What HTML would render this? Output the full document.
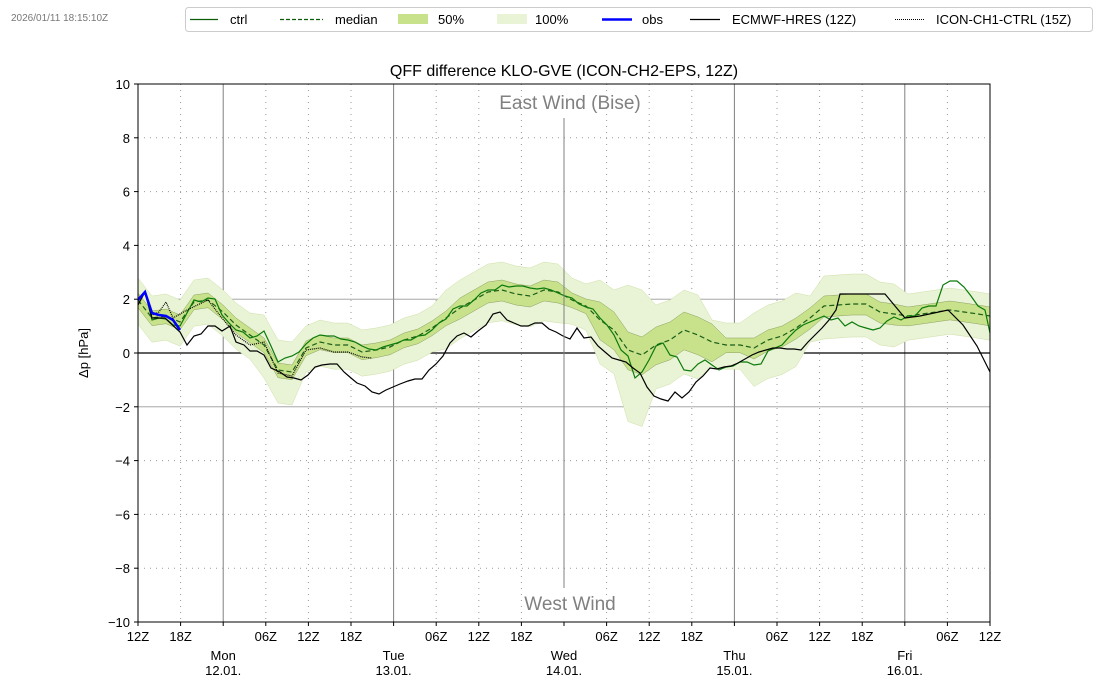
<!DOCTYPE html>
<html><head><meta charset="utf-8"><style>
body{margin:0;background:#fff;width:1100px;height:700px;overflow:hidden}
svg{display:block;font-family:"Liberation Sans","DejaVu Sans",sans-serif}
</style></head><body>
<svg id="s" width="1100" height="700" xmlns="http://www.w3.org/2000/svg">
<text x="11" y="21" font-size="10" fill="#777">2026/01/11 18:15:10Z</text>
<g id="grid"></g>
<g id="bands"></g>
<g id="lines"></g>
<rect x="138" y="84" width="852" height="538" fill="none" stroke="#000" stroke-width="1"/>
<line x1="564" y1="118" x2="564" y2="588" stroke="#808080" stroke-width="1"/>
<text x="570" y="109" font-size="19" fill="#808080" text-anchor="middle">East Wind (Bise)</text>
<text x="570" y="610" font-size="19" fill="#808080" text-anchor="middle">West Wind</text>
<text x="564" y="76" font-size="16" text-anchor="middle">QFF difference KLO-GVE (ICON-CH2-EPS, 12Z)</text>
<text transform="translate(88,353) rotate(-90)" font-size="13" text-anchor="middle">Δp [hPa]</text>
<g id="ticks" font-size="13"></g>
<g font-size="13">
<rect x="185.5" y="7.5" width="907" height="24" rx="3" fill="#fff" stroke="#ccc"/>
<line x1="190" y1="19.5" x2="218" y2="19.5" stroke="#0a5e0a" stroke-width="1.2"/><text x="230" y="24">ctrl</text>
<line x1="280" y1="19.5" x2="323" y2="19.5" stroke="#0a5e0a" stroke-width="1.2" stroke-dasharray="4,2"/><text x="335" y="24">median</text>
<rect x="398" y="14" width="30" height="10" fill="#c8e18b"/><text x="438" y="24">50%</text>
<rect x="497" y="14" width="30" height="10" fill="#e9f3d5"/><text x="535" y="24">100%</text>
<line x1="602" y1="19.5" x2="632" y2="19.5" stroke="#00f" stroke-width="2.5"/><text x="642" y="24">obs</text>
<line x1="690" y1="19.5" x2="720" y2="19.5" stroke="#000" stroke-width="1.2"/><text x="732" y="24">ECMWF-HRES (12Z)</text>
<line x1="895" y1="19.5" x2="925" y2="19.5" stroke="#000" stroke-dasharray="1,1"/><text x="936" y="24">ICON-CH1-CTRL (15Z)</text>
</g>
</svg>
<script>
const NS="http://www.w3.org/2000/svg";
function el(p,t,a,txt){const e=document.createElementNS(NS,t);for(const k in a)e.setAttribute(k,a[k]);if(txt!==undefined)e.textContent=txt;document.getElementById(p).appendChild(e);return e;}
const X=h=>138+h*852/120, Y=v=>353-26.9*v;
for(let i=0;i<=20;i++){const x=X(i*6);const mid=(i%4)==2;
 if(i>0&&i<20&&i!=10){ if(mid) el("grid","line",{x1:x,y1:84,x2:x,y2:622,stroke:"#808080","stroke-width":1});
  else el("grid","line",{x1:x,y1:84,x2:x,y2:622,stroke:"#999","stroke-dasharray":"1,5"});}
 const lbl=["12Z","18Z","","06Z"][i%4];
 el("ticks","line",{x1:x,y1:622,x2:x,y2:626,stroke:"#000"});
 if(lbl) el("ticks","text",{x:x,y:641,"text-anchor":"middle"},lbl);
}
const days=[["Mon","12.01."],["Tue","13.01."],["Wed","14.01."],["Thu","15.01."],["Fri","16.01."]];
days.forEach((d,i)=>{const x=X(12+24*i);el("ticks","text",{x:x,y:660,"text-anchor":"middle"},d[0]);el("ticks","text",{x:x,y:675,"text-anchor":"middle"},d[1]);});
for(let v=-10;v<=10;v+=2){const y=Y(v);
 if(v==0) el("grid","line",{x1:138,y1:y,x2:990,y2:y,stroke:"#000","stroke-width":1.2});
 else if(Math.abs(v)==2) el("grid","line",{x1:138,y1:y,x2:990,y2:y,stroke:"#999","stroke-width":0.8});
 else el("grid","line",{x1:138,y1:y,x2:990,y2:y,stroke:"#999","stroke-dasharray":"1,5"});
 el("ticks","line",{x1:134,y1:y,x2:138,y2:y,stroke:"#000"});
 el("ticks","text",{x:130,y:y+5,"text-anchor":"end"},v<0?"\u2212"+(-v):""+v);}
function pts(a){let s="";for(let i=0;i<a.length;i+=2)s+=a[i]+","+a[i+1]+" ";return s;}
const med=[138,300,152,318,166,316,180,322,194,302,208,300,223,312,236,325,250,335,264,345,278,370,292,372,306,348,320,342,334,345,348,345,362,352,376,350,390,347,404,340,418,336,432,328,446,318,460,308,474,300,488,292,502,290,516,294,530,296,544,290,558,292,572,300,586,306,600,320,614,330,628,350,642,355,656,345,670,340,684,330,698,335,712,342,726,345,740,345,754,348,768,340,782,336,796,328,810,318,824,306,838,305,852,304,866,304,880,312,894,314,908,316,922,314,936,312,950,310,964,312,978,314,990,316];
function band(hw,up){let s=[];for(let i=0;i<med.length;i+=2){const x=med[i];s.push(x,med[i+1]+(up?-hw(x):hw(x)*1.1));}return s;}
const w100=x=>{let w=22;if(x>250&&x<300)w=30;if(x>440&&x<560)w=28;if(x>590&&x<700)w=40+ (x>620&&x<650?25:0);if(x>740&&x<800)w=35;if(x>820&&x<900)w=30;return w;};
const w50=x=>{let w=7;if(x>450&&x<560)w=10;if(x>590&&x<720)w=18;if(x>750&&x<900)w=10;if(x>900)w=9;return w;};
function poly(id,f,fill){const u=band(f,true),l=band(f,false);let a=[];for(let i=0;i<u.length;i+=2)a.push(u[i],u[i+1]);for(let i=l.length-2;i>=0;i-=2)a.push(l[i],l[i+1]);el(id,"polygon",{points:pts(a),fill:fill,stroke:fill=="#e9f3d5"?"#cfe0a8":"#8aa060","stroke-width":0.5});}
poly("bands",w100,"#e9f3d5");poly("bands",w50,"#c8e18b");
const ec=[138,305,145,292,152,318,165,318,180,332,187,345,194,336,201,334,208,326,215,326,222,331,230,326,236,342,244,345,250,351,257,351,264,355,271,368,280,372,287,377,294,378,301,380,308,375,315,367,322,365,330,364,337,364,344,372,351,378,357,383,365,386,372,392,379,394,386,390,393,387,400,384,408,381,415,379,422,379,429,370,436,364,443,356,450,343,457,336,464,333,471,337,478,331,486,325,493,314,500,312,507,320,514,323,521,326,528,326,535,323,542,323,549,329,556,332,563,336,570,339,577,328,584,338,591,337,598,346,605,352,612,358,619,360,626,362,633,368,640,373,647,387,654,396,661,399,668,401,675,392,682,398,689,392,696,382,703,376,710,368,717,369,724,367,731,366,738,363,745,359,752,355,759,352,766,350,773,348,780,348,787,349,794,349,801,350,808,342,815,335,822,328,829,320,836,310,840,294,885,294,905,318,920,316,948,310,963,325,977,346,990,372];
const ct=[138,300,145,292,152,320,159,318,166,319,173,325,180,326,187,313,194,300,201,302,208,298,215,299,222,315,229,323,236,330,243,332,250,338,257,336,264,331,271,346,278,362,285,358,292,356,299,352,306,344,313,338,320,335,327,336,334,336,341,339,348,340,355,342,362,346,369,349,376,350,383,347,390,345,397,343,404,340,411,340,418,336,425,335,432,330,439,323,446,319,453,309,460,306,467,306,474,300,481,293,488,290,495,290,502,285,509,287,516,286,523,286,530,288,537,289,544,288,551,290,558,293,565,296,572,298,579,304,586,307,593,309,600,318,607,325,614,335,621,350,628,356,635,378,642,372,649,360,656,346,663,343,670,355,677,357,684,370,691,371,698,364,705,360,712,365,719,370,726,367,733,366,740,362,747,362,754,365,761,364,768,351,775,348,782,345,789,337,796,330,803,325,810,322,817,319,824,316,831,320,838,318,845,326,852,322,859,326,866,328,873,330,880,328,887,321,894,317,901,320,908,316,915,316,922,308,929,306,936,306,943,285,950,281,957,281,964,287,971,296,978,306,985,310,990,333];
const ic=[138,298,145,292,152,315,159,312,166,302,173,318,187,310,208,300,222,318,236,335,250,345,264,342,278,373,292,376,306,350,320,348,334,352,348,352,362,357,372,358];
const ob=[138,300,145,292,152,313,159,315,166,316,173,320,180,330];
el("lines","polyline",{points:pts(med),fill:"none",stroke:"#1a5e1a","stroke-width":1.2,"stroke-dasharray":"5,3"});
el("lines","polyline",{points:pts(ct),fill:"none",stroke:"#0a7a0a","stroke-width":1.2});
el("lines","polyline",{points:pts(ec),fill:"none",stroke:"#000","stroke-width":1.2});
el("lines","polyline",{points:pts(ic),fill:"none",stroke:"#000","stroke-width":1.2,"stroke-dasharray":"1,1"});
el("lines","polyline",{points:pts(ob),fill:"none",stroke:"#00f","stroke-width":2.5});
</script>
</body></html>
